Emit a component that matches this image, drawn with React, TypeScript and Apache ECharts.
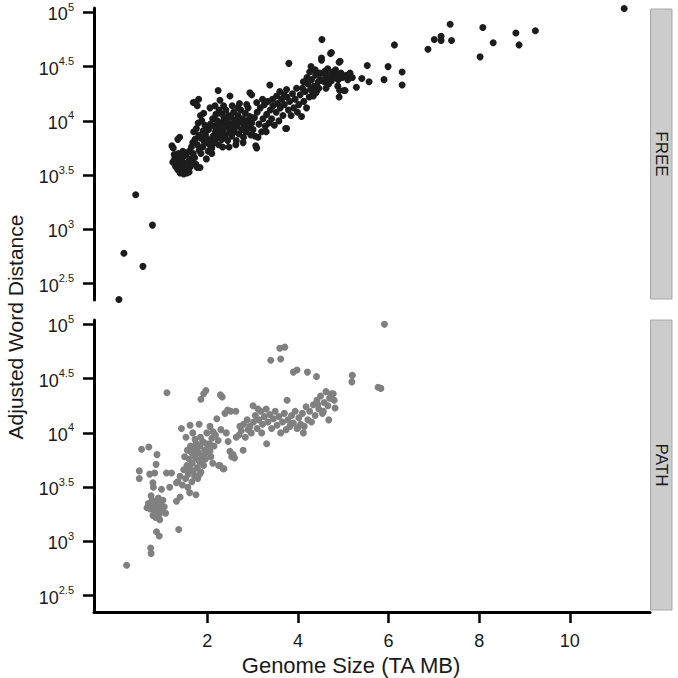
import React, { useEffect, useRef } from "react";
import * as echarts from "echarts";

// Facet names
const PANELS = ["FREE", "PATH"];
// Tick values: genome size (TA MB) and log10 exponents of word distance
const X_TICKS = [2, 4, 6, 8, 10];
const Y_TICKS = [2.5, 3, 3.5, 4, 4.5, 5];

// [genome size (TA MB), log10(adjusted word distance)]
const freePoints: [number, number][] = [
  [0.05, 2.355], [0.16, 2.78], [0.42, 3.32], [0.58, 2.66], [0.79, 3.04],
  [1.22, 3.77], [1.25, 3.75], [1.24, 3.62], [1.28, 3.65], [1.27, 3.69], [1.30, 3.58], [1.33, 3.62],
  [1.35, 3.55], [1.38, 3.60], [1.40, 3.52], [1.42, 3.56], [1.45, 3.53], [1.48, 3.51], [1.36, 3.70],
  [1.40, 3.66], [1.44, 3.63], [1.47, 3.59], [1.35, 3.83], [1.39, 3.85], [1.46, 3.72], [1.50, 3.68],
  [1.52, 3.54], [1.55, 3.52], [1.58, 3.56], [1.60, 3.53], [1.63, 3.58], [1.57, 3.62], [1.62, 3.65],
  [1.66, 3.61], [1.54, 3.70], [1.60, 3.72], [1.65, 3.76], [1.69, 3.70], [1.72, 3.66], [1.75, 3.60],
  [1.78, 3.57], [1.84, 3.57], [1.98, 3.65], [1.68, 3.80], [1.73, 3.83], [1.78, 3.78], [1.82, 3.73],
  [1.86, 3.70], [1.90, 3.76], [1.94, 3.80], [1.70, 3.90], [1.76, 3.93], [1.81, 3.87], [1.86, 3.84],
  [1.91, 3.91], [1.96, 3.88], [1.80, 3.98], [1.88, 4.00], [1.95, 3.96], [1.99, 3.84], [1.69, 4.17],
  [1.73, 4.17], [1.81, 4.20], [1.78, 4.14], [1.92, 4.07], [1.85, 4.05],
  [2.02, 3.72], [2.05, 3.78], [2.08, 3.82], [2.10, 3.75], [2.13, 3.86], [2.16, 3.80], [2.18, 3.90],
  [2.20, 3.84], [2.23, 3.94], [2.25, 3.78], [2.27, 3.88], [2.30, 3.98], [2.32, 3.83], [2.35, 3.92],
  [2.37, 4.02], [2.40, 3.87], [2.42, 3.95], [2.45, 3.82], [2.47, 4.05], [2.49, 3.90], [2.03, 3.92],
  [2.07, 3.97], [2.12, 4.02], [2.15, 3.95], [2.19, 4.06], [2.22, 4.00], [2.26, 4.10], [2.29, 3.92],
  [2.33, 4.06], [2.38, 3.97], [2.41, 4.10], [2.44, 4.00], [2.24, 4.28], [2.28, 4.19], [2.10, 3.70],
  [2.34, 3.76], [2.48, 3.76], [2.06, 4.12], [2.17, 4.14], [2.36, 4.14],
  [2.50, 3.93], [2.52, 4.04], [2.54, 3.86], [2.56, 3.98], [2.58, 4.08], [2.60, 3.90], [2.62, 4.01],
  [2.64, 3.82], [2.66, 3.95], [2.68, 4.05], [2.70, 3.88], [2.72, 3.99], [2.74, 4.10], [2.76, 3.92],
  [2.78, 4.02], [2.80, 3.85], [2.82, 3.96], [2.84, 4.07], [2.86, 3.90], [2.88, 4.00], [2.90, 4.12],
  [2.92, 3.94], [2.94, 4.04], [2.96, 3.87], [2.98, 3.98], [2.50, 4.23], [2.55, 4.14], [2.94, 4.26],
  [2.98, 4.24], [2.71, 4.16], [2.63, 3.78], [2.79, 3.80], [2.87, 4.15], [2.53, 3.96], [2.67, 4.12],
  [2.83, 3.91], [2.59, 3.95], [2.75, 4.00],
  [3.01, 3.92], [3.04, 4.03], [3.07, 3.77], [3.09, 3.75], [3.12, 3.85], [3.10, 4.08], [3.14, 3.97],
  [3.17, 4.12], [3.20, 3.90], [3.23, 4.02], [3.26, 4.15], [3.28, 3.95], [3.31, 4.06], [3.34, 4.18],
  [3.36, 3.98], [3.39, 4.10], [3.42, 4.02], [3.45, 4.14], [3.48, 3.96], [3.09, 4.17], [3.38, 4.33],
  [3.53, 4.23], [3.22, 4.20], [3.05, 3.86], [3.30, 3.90], [3.44, 4.20],
  [3.52, 4.08], [3.55, 4.16], [3.58, 4.00], [3.61, 4.12], [3.64, 4.20], [3.67, 4.05], [3.70, 4.15],
  [3.73, 3.93], [3.75, 3.93], [3.76, 4.22], [3.79, 4.10], [3.82, 4.18], [3.85, 4.05], [3.88, 4.25],
  [3.91, 4.12], [3.94, 4.20], [3.97, 4.30], [3.75, 4.29], [3.80, 4.53], [3.99, 4.08], [3.60, 4.27],
  [3.69, 4.24],
  [4.02, 4.15], [4.05, 4.24], [4.08, 4.04], [4.10, 4.30], [4.13, 4.18], [4.16, 4.27], [4.19, 4.12],
  [4.22, 4.34], [4.25, 4.22], [4.28, 4.29], [4.30, 4.38], [4.33, 4.24], [4.36, 4.32], [4.39, 4.42],
  [4.42, 4.28], [4.45, 4.36], [4.48, 4.44], [4.29, 4.50], [4.34, 4.23], [4.40, 4.26], [4.46, 4.30],
  [4.12, 4.36], [4.20, 4.40], [4.26, 4.45], [4.38, 4.47],
  [4.52, 4.58], [4.53, 4.75], [4.52, 4.56], [4.50, 4.38], [4.55, 4.44], [4.58, 4.36], [4.60, 4.46],
  [4.63, 4.40], [4.66, 4.48], [4.70, 4.42], [4.72, 4.62], [4.74, 4.63], [4.74, 4.37], [4.77, 4.45],
  [4.80, 4.40], [4.83, 4.47], [4.86, 4.43], [4.89, 4.38], [4.91, 4.54], [4.91, 4.22], [4.92, 4.28],
  [4.88, 4.32], [4.62, 4.30], [4.68, 4.34], [4.95, 4.44], [4.98, 4.40], [4.93, 4.55],
  [5.02, 4.28], [5.04, 4.28], [5.06, 4.42], [5.10, 4.38], [5.15, 4.44], [5.20, 4.40], [5.29, 4.31],
  [5.41, 4.39], [5.53, 4.51], [5.57, 4.36], [5.90, 4.38], [5.99, 4.50], [6.13, 4.70], [6.30, 4.45],
  [6.30, 4.33], [6.87, 4.66], [7.01, 4.75], [7.16, 4.78], [7.16, 4.74], [7.39, 4.74], [7.36, 4.89],
  [8.08, 4.86], [8.31, 4.72], [8.02, 4.59], [8.81, 4.81], [8.88, 4.70], [9.24, 4.83], [11.2, 5.035],
];

const pathPoints: [number, number][] = [
  [0.22, 2.78], [0.75, 2.94], [0.76, 2.89], [0.50, 3.65], [0.50, 3.58], [0.55, 3.85], [0.71, 3.87],
  [0.89, 3.80], [0.87, 3.71], [1.11, 4.37], [1.37, 3.11],
  [0.73, 3.62], [0.84, 3.63], [0.80, 3.54], [0.81, 3.50], [0.99, 3.48], [1.17, 3.50], [1.32, 3.54],
  [1.10, 3.63], [1.21, 3.63], [0.88, 3.09], [0.94, 3.05], [0.70, 3.35], [0.74, 3.30], [0.78, 3.38],
  [0.82, 3.33], [0.85, 3.28], [0.88, 3.36], [0.91, 3.31], [0.94, 3.25], [0.97, 3.34], [1.00, 3.29],
  [0.80, 3.24], [0.86, 3.22], [0.92, 3.40], [1.02, 3.38], [1.05, 3.32], [0.76, 3.42], [1.08, 3.26],
  [0.95, 3.20], [0.67, 3.31],
  [1.32, 3.37], [1.40, 3.41], [1.75, 3.43], [1.43, 4.04], [1.62, 4.07], [1.82, 4.08], [1.68, 4.00],
  [1.53, 3.96], [1.35, 3.55], [1.40, 3.60], [1.45, 3.52], [1.48, 3.66], [1.52, 3.58], [1.55, 3.70],
  [1.58, 3.62], [1.60, 3.76], [1.62, 3.67], [1.65, 3.82], [1.67, 3.72], [1.70, 3.86], [1.72, 3.60],
  [1.74, 3.77], [1.76, 3.90], [1.78, 3.68], [1.80, 3.82], [1.82, 3.74], [1.84, 3.88], [1.86, 3.64],
  [1.88, 3.79], [1.90, 3.92], [1.92, 3.70], [1.94, 3.84], [1.96, 3.76], [1.98, 3.90], [1.63, 3.88],
  [1.69, 3.65], [1.73, 3.94], [1.79, 3.58], [1.85, 3.96], [1.50, 3.78], [1.57, 3.50], [1.66, 3.55],
  [1.71, 3.80], [1.77, 3.85], [1.83, 3.62], [1.89, 3.72], [1.95, 3.81], [1.61, 3.45], [1.56, 3.84],
  [1.86, 4.31], [1.92, 4.36], [1.97, 4.39], [1.99, 4.00],
  [2.02, 3.85], [2.06, 4.06], [2.13, 4.01], [2.21, 4.13], [2.39, 4.18], [2.06, 3.83], [2.28, 3.70],
  [2.35, 3.67], [2.25, 3.70], [2.37, 3.67], [2.29, 4.35], [2.33, 4.33], [2.46, 3.92], [2.50, 3.83],
  [2.05, 3.90], [2.10, 3.95], [2.15, 3.88], [2.18, 3.98], [2.24, 3.93], [2.30, 4.03], [2.08, 3.78],
  [2.12, 3.72], [2.42, 4.00], [2.45, 4.21], [2.52, 4.20], [2.57, 3.80], [2.54, 3.78], [2.60, 3.77],
  [2.63, 4.20], [2.64, 3.96], [2.79, 3.84], [2.90, 4.03], [2.94, 4.06], [3.01, 4.25], [3.31, 3.90],
  [2.70, 3.98], [2.75, 4.02], [2.80, 4.08], [2.84, 3.96], [2.88, 4.12], [2.97, 4.00], [3.02, 4.10],
  [3.06, 4.16], [3.10, 4.04], [3.14, 4.12], [3.18, 4.20], [3.22, 4.08], [3.26, 4.15], [3.30, 4.22],
  [3.34, 4.10], [3.38, 4.17], [3.42, 4.04], [3.46, 4.13], [3.50, 4.20], [2.72, 4.06], [3.40, 4.67],
  [3.12, 4.22], [3.20, 4.00],
  [3.54, 4.07], [3.58, 4.15], [3.60, 4.78], [3.71, 4.79], [3.62, 4.68], [3.62, 4.00], [3.66, 4.10],
  [3.70, 4.18], [3.74, 4.03], [3.76, 4.30], [3.78, 4.12], [3.82, 4.06], [3.86, 4.16], [3.90, 4.56],
  [3.98, 4.58], [3.90, 4.09], [3.94, 4.20], [3.98, 4.04], [4.02, 4.14], [4.06, 4.08], [4.10, 4.18],
  [4.14, 4.06], [4.18, 4.24], [4.21, 4.56], [4.22, 4.12], [4.26, 4.20], [4.30, 4.10], [4.34, 4.26],
  [4.38, 4.16], [4.41, 4.52], [4.42, 4.30], [4.46, 4.22], [4.50, 4.34], [4.54, 4.18], [4.58, 4.28],
  [4.62, 4.38], [4.66, 4.25], [4.70, 4.32], [4.74, 4.36], [4.78, 4.36], [4.82, 4.23], [4.80, 4.30],
  [4.44, 4.26], [4.56, 4.20], [4.68, 4.12], [4.12, 4.00], [4.00, 4.05],
  [5.20, 4.53], [5.19, 4.47], [5.77, 4.42], [5.83, 4.41], [5.91, 5.00],
];

const FONT = "'Liberation Sans', Arial, Helvetica, sans-serif";
const TEXT = "#1a1a1a";

function expLabel(v: number): string {
  const e = Number.isInteger(v) ? String(v) : v.toFixed(1);
  return `{b|10}{s|${e}}`;
}

export default function App() {
  const ref = useRef<HTMLDivElement>(null);

  useEffect(() => {
    if (!ref.current) return;
    const chart = echarts.init(ref.current, null, { renderer: "svg" });
    const grids = [
      { left: 94, top: 8, width: 556, height: 292 },
      { left: 94, top: 320, width: 556, height: 292 },
    ];
    const option: any = {
      animation: false,
      backgroundColor: "#ffffff",
      grid: grids,
      xAxis: [0, 1].map((i) => ({
        type: "value",
        gridIndex: i,
        min: -0.5,
        max: 11.77,
        axisLine: { show: i === 1, onZero: false, lineStyle: { color: "#000", width: 3 } },
        axisTick: {
          show: i === 1,
          customValues: X_TICKS,
          length: 11,
          lineStyle: { color: "#000", width: 2.5 },
        },
        axisLabel: {
          show: i === 1,
          customValues: X_TICKS,
          margin: 20,
          fontSize: 18,
          fontFamily: FONT,
          color: TEXT,
        },
        splitLine: { show: false },
      })),
      yAxis: [0, 1].map((i) => ({
        type: "value",
        gridIndex: i,
        min: 2.35,
        max: 5.04,
        axisLine: { show: true, onZero: false, lineStyle: { color: "#000", width: 3 } },
        axisTick: {
          show: true,
          customValues: Y_TICKS,
          length: 11,
          lineStyle: { color: "#000", width: 2.5 },
        },
        axisLabel: {
          customValues: Y_TICKS,
          margin: 20,
          formatter: (v: number) => expLabel(v),
          rich: {
            b: { fontSize: 18, fontFamily: FONT, color: TEXT, lineHeight: 22, verticalAlign: "bottom" },
            s: { fontSize: 11, fontFamily: FONT, color: TEXT, lineHeight: 15, verticalAlign: "top" },
          },
        },
        splitLine: { show: false },
      })),
      series: [
        {
          name: PANELS[0],
          type: "scatter",
          xAxisIndex: 0,
          yAxisIndex: 0,
          data: freePoints,
          symbolSize: 7,
          itemStyle: { color: "#1c1c1c", opacity: 1 },
        },
        {
          name: PANELS[1],
          type: "scatter",
          xAxisIndex: 1,
          yAxisIndex: 1,
          data: pathPoints,
          symbolSize: 7,
          itemStyle: { color: "#808080", opacity: 1 },
        },
      ],
      graphic: [
        {
          type: "rect",
          shape: { x: 650.5, y: 9, width: 21.5, height: 290 },
          style: { fill: "#cccccc", stroke: "#a8a8a8", lineWidth: 1 },
        },
        {
          type: "text",
          x: 661,
          y: 154,
          rotation: -Math.PI / 2,
          style: { text: PANELS[0], fontSize: 17, fontFamily: FONT, fill: TEXT, align: "center", verticalAlign: "middle" },
        },
        {
          type: "rect",
          shape: { x: 650.5, y: 320, width: 21.5, height: 290 },
          style: { fill: "#cccccc", stroke: "#a8a8a8", lineWidth: 1 },
        },
        {
          type: "text",
          x: 661,
          y: 465,
          rotation: -Math.PI / 2,
          style: { text: PANELS[1], fontSize: 17, fontFamily: FONT, fill: TEXT, align: "center", verticalAlign: "middle" },
        },
        {
          type: "text",
          x: 15,
          y: 327,
          rotation: Math.PI / 2,
          style: { text: "Adjusted Word Distance", fontSize: 21, fontFamily: FONT, fill: TEXT, align: "center", verticalAlign: "middle" },
        },
        {
          type: "text",
          x: 351,
          y: 665,
          style: { text: "Genome Size (TA MB)", fontSize: 22, fontFamily: FONT, fill: TEXT, align: "center", verticalAlign: "middle" },
        },
      ],
    };
    chart.setOption(option);
    return () => chart.dispose();
  }, []);

  return (
    <div
      ref={ref}
      style={{ position: "fixed", left: 0, top: 0, width: 678, height: 678, background: "#fff" }}
    />
  );
}
